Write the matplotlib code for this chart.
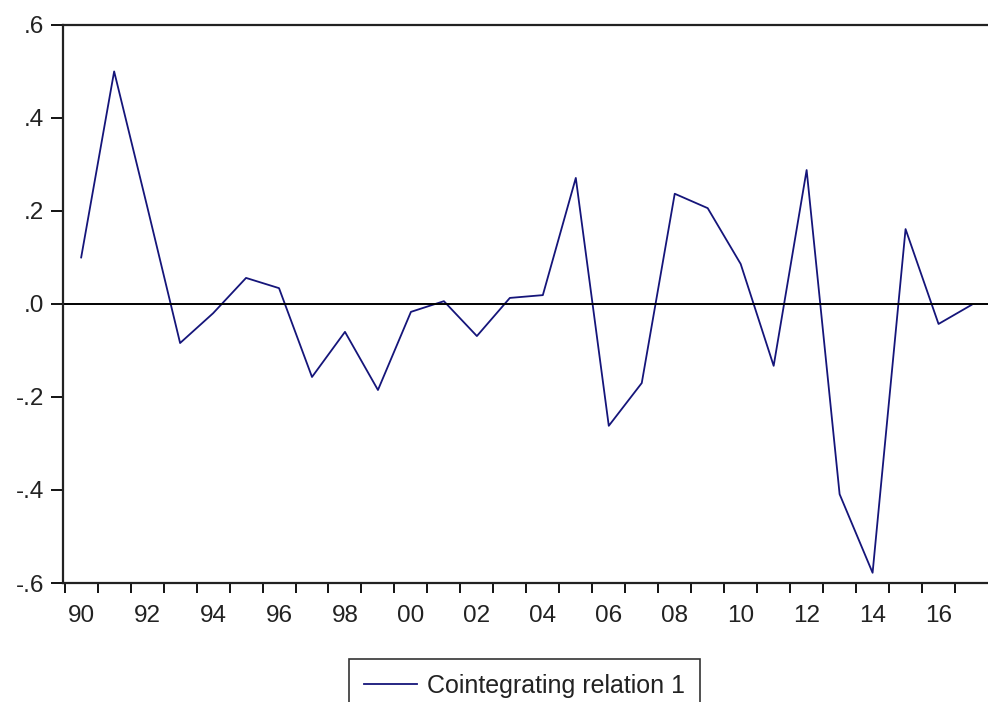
import numpy as np
import matplotlib.pyplot as plt
from matplotlib.ticker import FixedLocator, FuncFormatter

years = list(range(1990, 2018))
relation = [0.10, 0.50, 0.21, -0.084, -0.02, 0.056, 0.034, -0.157, -0.06, -0.185,
            -0.017, 0.006, -0.069, 0.013, 0.019, 0.271, -0.262, -0.17, 0.237, 0.206,
            0.086, -0.133, 0.288, -0.409, -0.578, 0.161, -0.043, -0.002]
y_ticks = [-0.6, -0.4, -0.2, 0.0, 0.2, 0.4, 0.6]
label_years = list(range(1990, 2017, 2))

plt.rcParams['font.family'] = ['Liberation Sans', 'DejaVu Sans']

fig = plt.figure(figsize=(9.88, 7.02), dpi=100)
ax = fig.add_axes([0.0638, 0.1695, 0.9362, 0.795])

ax.plot(years, relation, color='#15157a', lw=1.3, label='Cointegrating relation 1')
ax.axhline(0, color='black', lw=1.4)

ax.set_xlim(1989.45, 2017.5)
ax.set_ylim(-0.6, 0.6)

# year boundaries get tick marks, year centres get the labels
ax.xaxis.set_major_locator(FixedLocator([y - 0.5 for y in range(1990, 2018)]))
ax.xaxis.set_major_formatter(FuncFormatter(lambda v, p: ''))
ax.xaxis.set_minor_locator(FixedLocator(label_years))
ax.xaxis.set_minor_formatter(FuncFormatter(lambda v, p: '%02d' % (int(round(v)) % 100)))
ax.tick_params(axis='x', which='major', direction='out', length=7.2, width=1.3)
ax.tick_params(axis='x', which='minor', length=0, pad=16, labelsize=17.5, labelcolor='#222222')

def fmt_y(v, p):
    s = '%.1f' % v
    s = s.replace('0.', '.')
    if s == '-.0':
        s = '.0'
    return s

ax.yaxis.set_major_locator(FixedLocator(y_ticks))
ax.yaxis.set_major_formatter(FuncFormatter(fmt_y))
ax.tick_params(axis='y', direction='out', length=8.6, width=1.3, labelsize=17.5,
               labelcolor='#222222', pad=5)

ax.spines['right'].set_visible(False)
for s in ['left', 'bottom', 'top']:
    ax.spines[s].set_linewidth(1.6)
    ax.spines[s].set_color('#222222')

leg = fig.legend(loc='upper center', bbox_to_anchor=(0.531, 0.0613), fontsize=18,
                 frameon=True, fancybox=False, edgecolor='black', handlelength=2.1,
                 handletextpad=0.4, borderpad=0.6, borderaxespad=0)
leg.get_frame().set_linewidth(1.2)
for t in leg.get_texts():
    t.set_color('#222222')

fig.savefig('out.png', dpi=100)
